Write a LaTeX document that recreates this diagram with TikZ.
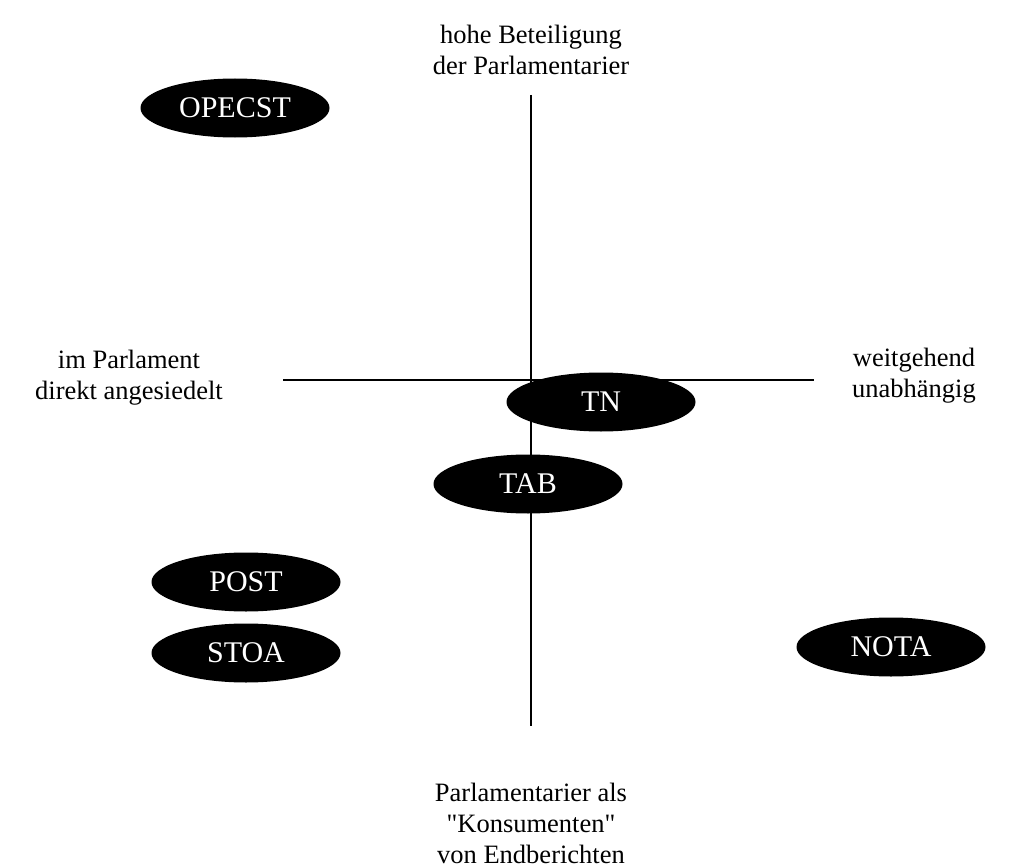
\documentclass[tikz,border=0pt]{standalone}
\usepackage{fontspec}
\setmainfont{Liberation Serif}
\newfontfamily\plainserif{Liberation Serif}
\usetikzlibrary{shapes.geometric}
\tikzset{
  blob/.style={ellipse, fill=black, draw=none, text=white, minimum width=189pt, minimum height=59pt, inner sep=0pt, font=\fontsize{30}{34}\selectfont},
  lbl/.style={align=center, inner sep=0pt, font=\fontsize{26.5}{31}\selectfont},
  axis/.style={line width=2pt}
}
\begin{document}
\begin{tikzpicture}[x=1pt,y=-1pt]
\useasboundingbox (0,0) rectangle (1013,867);
\coordinate (vt) at (531,95);
\coordinate (vb) at (531,726);
\coordinate (hl) at (283,380);
\coordinate (hr) at (814,380);
\draw[axis] (vt) -- (vb);
\draw[axis] (hl) -- (hr);
\node[lbl] (top) at (531,50) {hohe Beteiligung\\der Parlamentarier};
\node[lbl] (left) at (129,378) {im Parlament\\direkt angesiedelt};
\node[lbl] (right) at (914,376) {weitgehend\\unabhängig};
\node[lbl] (bottom) at (531,823) {Parlamentarier als\\{\plainserif "}Konsumenten{\plainserif "}\\von Endberichten};
\node[blob] (opecst) at (235,108) {OPECST};
\node[blob] (tn) at (601,402) {TN};
\node[blob] (tab) at (528,484) {TAB};
\node[blob] (post) at (246,582) {POST};
\node[blob] (stoa) at (246,653) {STOA};
\node[blob] (nota) at (891,647) {NOTA};
\end{tikzpicture}
\end{document}
